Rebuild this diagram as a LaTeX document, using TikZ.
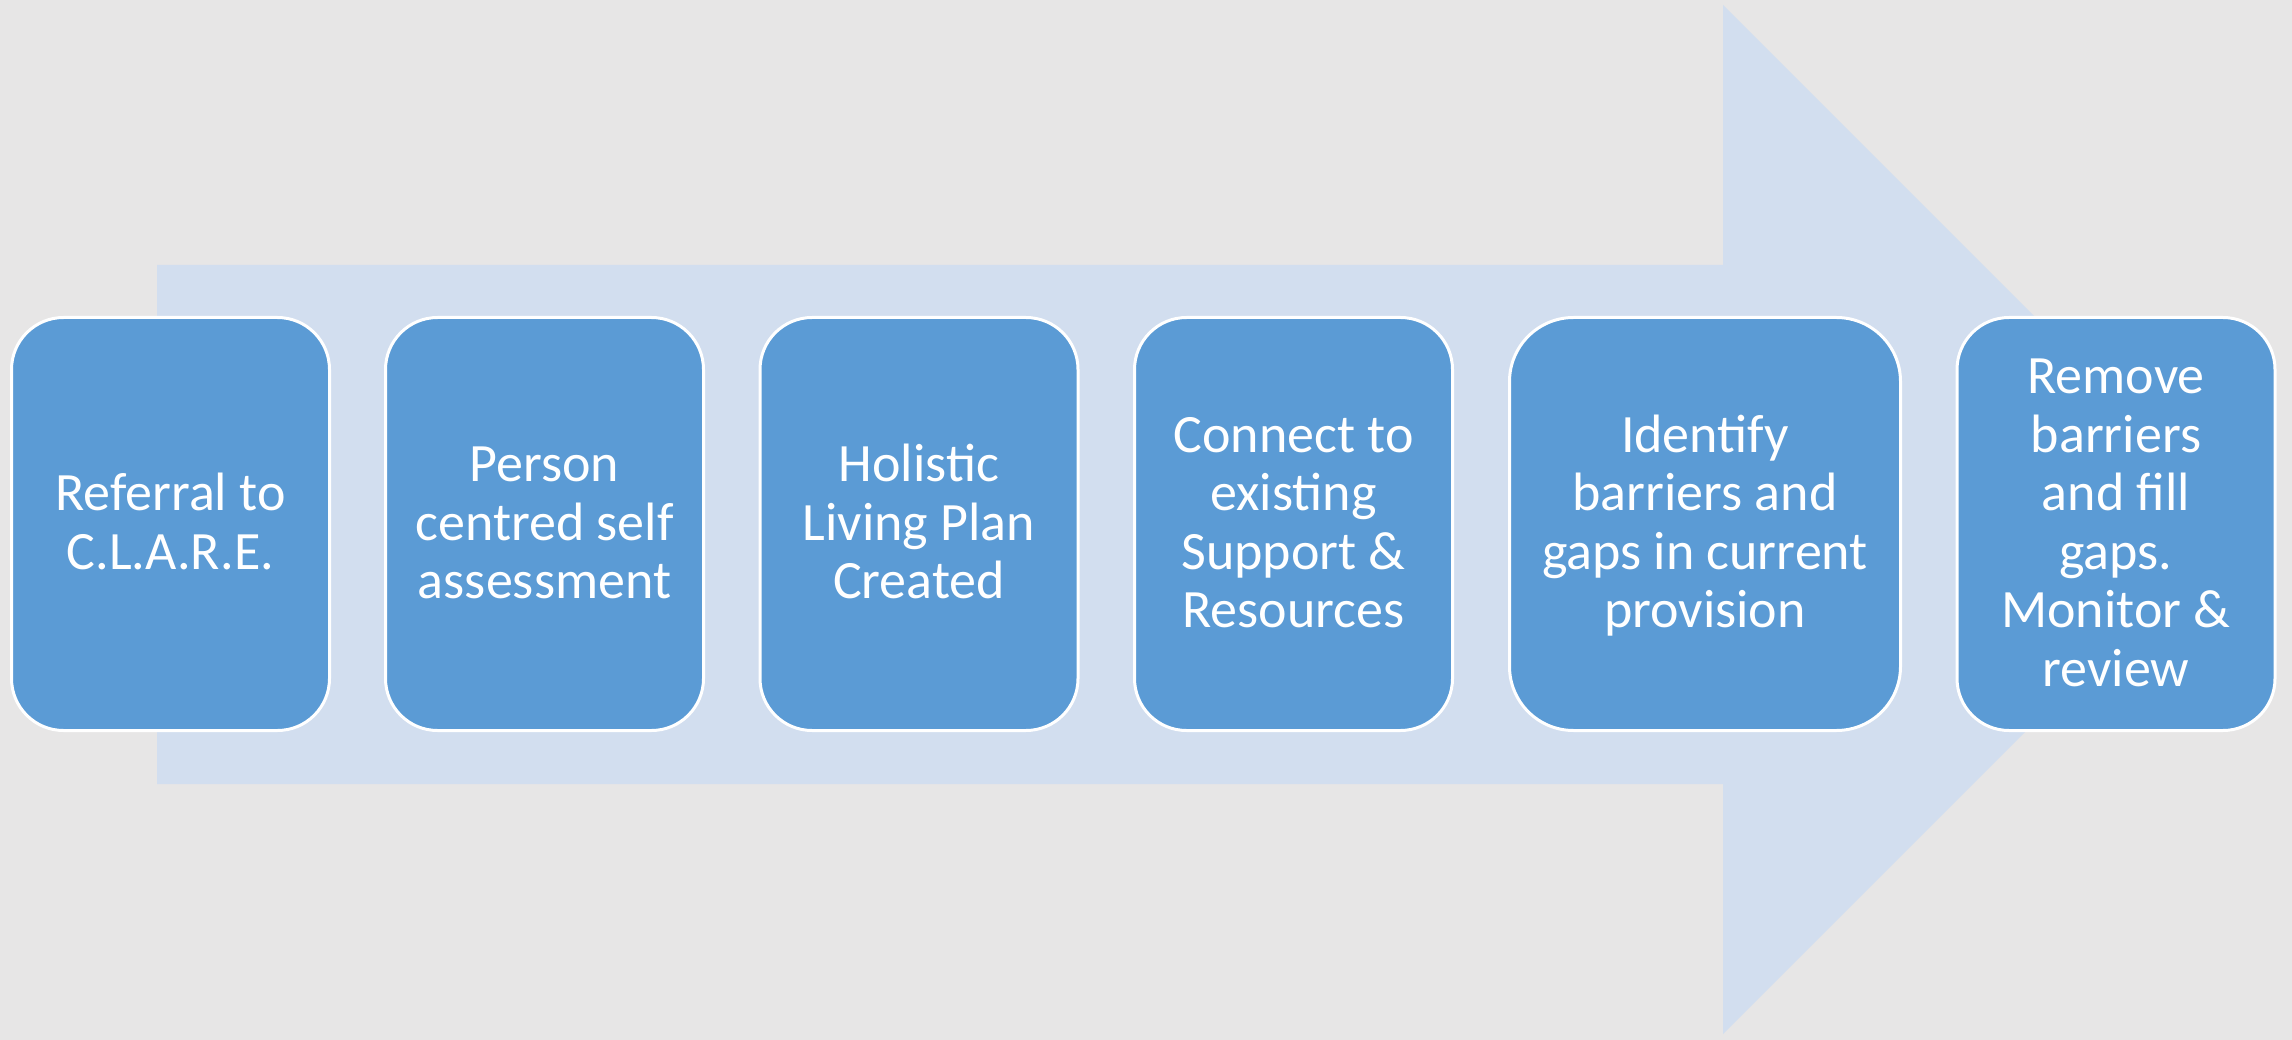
\documentclass[tikz,border=0pt]{standalone}
\usepackage{fontspec}
\setmainfont{Carlito}
\definecolor{bgcol}{HTML}{E7E6E6}
\definecolor{arrowcol}{HTML}{D2DEEF}
\definecolor{boxcol}{HTML}{5B9BD5}
\newcommand\lnstrut{\rule[-13.3pt]{0pt}{58.6pt}}
\begin{document}
\begin{tikzpicture}[x=1pt,y=-1pt,
  stepbox/.style={draw=white, line width=3pt, fill=boxcol, text=white,
    align=center, minimum height=413pt, inner sep=0pt,
    font=\fontsize{54}{58.6}\selectfont},
  narrowbox/.style={stepbox, minimum width=318pt, rounded corners=52pt},
  widebox/.style={stepbox, minimum width=391pt, rounded corners=64pt}
]
\fill[bgcol] (0,0) rectangle (2292,1040);
\useasboundingbox (0,0) rectangle (2292,1040);
\fill[arrowcol] (157,265) -- (1723,265) -- (1723,5) -- (2237.5,519.5)
  -- (1723,1034) -- (1723,784) -- (157,784) -- cycle;
\node[narrowbox] (s1) at (170.5,524) {\lnstrut Referral to\\\lnstrut C.L.A.R.E.};
\node[narrowbox] (s2) at (544.5,524) {\lnstrut Person\\\lnstrut centred self\\\lnstrut assessment};
\node[narrowbox] (s3) at (919,524) {\lnstrut Holistic\\\lnstrut Living Plan\\\lnstrut Created};
\node[narrowbox] (s4) at (1293.5,524) {\lnstrut Connect to\\\lnstrut existing\\\lnstrut Support \&\\\lnstrut Resources};
\node[widebox] (s5) at (1705,524) {\lnstrut Identify\\\lnstrut barriers and\\\lnstrut gaps in current\\\lnstrut provision};
\node[narrowbox] (s6) at (2116,524) {\lnstrut Remove\\\lnstrut barriers\\\lnstrut and fill\\\lnstrut gaps.\\\lnstrut Monitor \&\\\lnstrut review};
\end{tikzpicture}
\end{document}
